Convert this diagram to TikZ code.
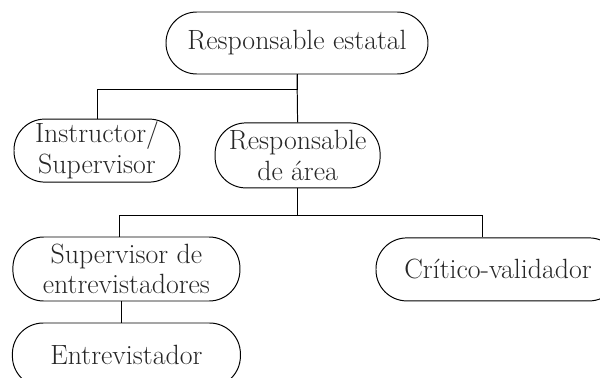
\documentclass[tikz,border=0pt]{standalone}
\usepackage{fontspec}
\tikzset{
  box/.style={draw, rounded corners=0.77cm, minimum height=1.6cm, align=center,
    inner sep=0pt, font=\fontsize{19.8}{21.8}\selectfont, text=black!85}
}
\begin{document}
\begin{tikzpicture}[line width=0.7pt]
        \useasboundingbox (0,0) rectangle (15,9.425);
        % boxes
        \node[box, minimum width=6.55cm, minimum height=1.55cm] (estatal) at (7.425,8.35) {Responsable estatal};
        \node[box, minimum width=4.15cm, minimum height=1.575cm] (instructor) at (2.425,5.66) {Instructor/\\Supervisor};
        \node[box, minimum width=4.125cm, minimum height=1.625cm] (area) at (7.44,5.54) {Responsable\\de área};
        \node[box, minimum width=5.675cm] (supervisor) at (3.16,2.7) {Supervisor de\\entrevistadores};
        \node[box, minimum width=6.1cm, minimum height=1.575cm] (critico) at (12.45,2.69) {Crítico-validador};
        \node[box, minimum width=5.7cm] (entrevistador) at (3.16,0.55) {Entrevistador};
        % lines
        \draw (estatal.south) -- ++(0,-0.375) -| (instructor.north);
        \draw (estatal.south) -- (area.north);
        \draw (area.south) -- ++(0,-0.675) -| ([xshift=-0.17cm]supervisor.north);
        \draw (area.south) -- ++(0,-0.675) -| ([xshift=-0.4cm]critico.north);
        \draw ([xshift=-0.12cm]supervisor.south) -- ([xshift=-0.12cm]entrevistador.north);
  \end{tikzpicture}
\end{document}
